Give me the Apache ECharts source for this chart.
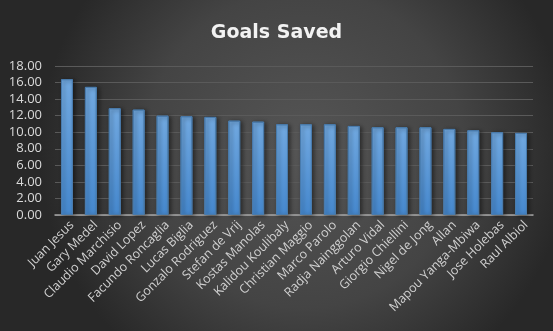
<!DOCTYPE html>
<html><head><meta charset="utf-8">
<script src="https://cdn.jsdelivr.net/npm/echarts@6/dist/echarts.min.js"></script>
<style>html,body{margin:0;padding:0;background:#333;}#c{width:553px;height:331px;}</style>
</head><body><div id="c"></div>
<script>
const categories = ["Juan Jesus","Gary Medel","Claudio Marchisio","David Lopez","Facundo Roncaglia","Lucas Biglia","Gonzalo Rodriguez","Stefan de Vrij","Kostas Manolas","Kalidou Koulibaly","Christian Maggio","Marco Parolo","Radja Nainggolan","Arturo Vidal","Giorgio Chiellini","Nigel de Jong","Allan","Mapou Yanga-Mbiwa","Jose Holebas","Raul Albiol"];
const goalsSaved = [16.41,15.48,12.9,12.73,12.0,11.93,11.85,11.4,11.28,10.96,10.96,10.96,10.76,10.6,10.6,10.6,10.4,10.24,10.0,9.92];
const chart = echarts.init(document.getElementById('c'));
chart.setOption({
  backgroundColor: {type:'radial', x:0.55, y:0.45, r:0.8, colorStops:[{offset:0,color:'#555555'},{offset:0.6,color:'#444444'},{offset:1,color:'#282828'}]},
  title: {text:'Goals Saved', left:'center', top:19, textStyle:{color:'#f2f2f2', fontSize:19, fontWeight:'bold', fontFamily:'DejaVu Sans'}},
  grid: {left:55, right:20, top:66, bottom:116},
  xAxis: {type:'category', data:categories,
    axisLine:{lineStyle:{color:'#a6a6a6', width:1.5}}, axisTick:{show:false},
    axisLabel:{rotate:45, color:'#d0d0d0', fontSize:12.5, fontFamily:'Open Sans', interval:0, margin:13, padding:[0,-7,0,0]}},
  yAxis: {type:'value', min:0, max:18, interval:2,
    axisLine:{show:false}, axisTick:{show:false},
    splitLine:{lineStyle:{color:'#5a5a5a', width:1}},
    axisLabel:{formatter:v=>v.toFixed(2), color:'#d9d9d9', fontSize:13, fontFamily:'Open Sans', margin:13}},
  series: [{type:'bar', data:goalsSaved, barWidth:'50%',
    itemStyle:{color:{type:'linear',x:0,y:0,x2:0,y2:1,colorStops:[{offset:0,color:'#72aae2'},{offset:1,color:'#4689cf'}]},
      borderColor:'#4a7cad', borderWidth:1, shadowColor:'rgba(0,0,0,0.45)', shadowBlur:4, shadowOffsetX:2, shadowOffsetY:1}}]
});
</script></body></html>
